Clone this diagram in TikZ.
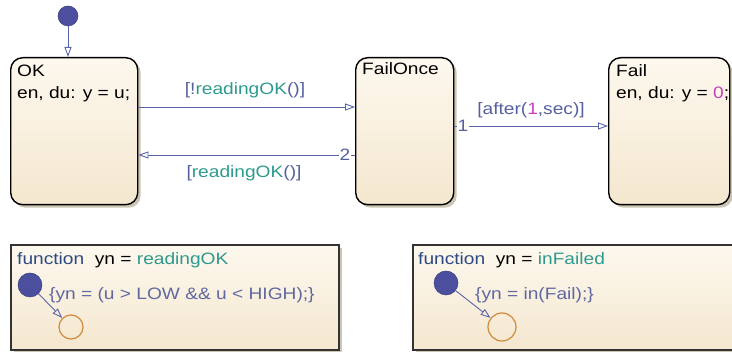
\documentclass[tikz,border=0pt]{standalone}
\usepackage{fontspec}
\setmainfont[FakeStretch=1.16]{Liberation Sans}
\usetikzlibrary{arrows.meta,shadows}
\definecolor{trc}{HTML}{5A64AA}
\definecolor{lblc}{HTML}{55609E}
\definecolor{teal}{HTML}{2E9A8E}
\definecolor{magc}{HTML}{C840C0}
\definecolor{funkw}{HTML}{2E4A85}
\definecolor{bodyc}{HTML}{6068A0}
\definecolor{dotc}{HTML}{4B4F9E}
\definecolor{juncc}{HTML}{D08A3A}
\definecolor{topc}{HTML}{FDF8EE}
\definecolor{botc}{HTML}{F4E7CF}
\definecolor{shadc}{HTML}{BFB6A0}
\begin{document}
\begin{tikzpicture}[x=1pt,y=-1pt,
  font=\fontsize{16.5}{19}\selectfont,
  statebox/.style={draw=black, line width=1.4pt, rounded corners=12pt,
    top color=topc, bottom color=botc, anchor=north west, inner sep=0pt,
    drop shadow={shadow xshift=3pt, shadow yshift=-3pt, fill=shadc, opacity=0.8}},
  funbox/.style={draw=black!80, line width=1.8pt,
    top color=topc, bottom color=botc, anchor=north west, inner sep=0pt,
    drop shadow={shadow xshift=3pt, shadow yshift=-3pt, fill=shadc, opacity=0.8}},
  txt/.style={anchor=base west, inner sep=0pt},
  ctxt/.style={anchor=base, inner sep=0pt},
  trans/.style={draw=trc, line width=0.9pt, -{Triangle[open, length=10pt, width=7pt]}},
  dotnode/.style={circle, fill=dotc, draw=dotc!80!black, line width=0.5pt, inner sep=0pt},
  junc/.style={circle, draw=juncc, line width=1.2pt, inner sep=0pt},
  numlbl/.style={fill=white, inner sep=0.6pt, text=lblc}]
\useasboundingbox (0,0) rectangle (732,352);
\clip (0,0) rectangle (732,352);

% states
\node[statebox, minimum width=127pt, minimum height=147pt] (ok) at (10,57) {};
\node[statebox, minimum width=98pt, minimum height=147pt] (fo) at (355,57) {};
\node[statebox, minimum width=121pt, minimum height=147pt] (fail) at (608,57) {};

\node[txt] (okname) at (17,77) {OK};
\node[txt] (okact) at (17,99) {en, du: y = u;};
\node[txt] (foname) at (362,75) {FailOnce};
\node[txt] (failname) at (616,77) {Fail};
\node[txt] (failact) at (616,99) {en, du: y = \textcolor{magc}{0};};

% initial transition
\node[dotnode, minimum size=20pt] (init) at (68,16) {};
\draw[trans] (init.south) -- (init.south |- ok.north);

% transitions
\draw[trans] (ok.east |- 0,107) -- (fo.west |- 0,107);
\node[ctxt, text=lblc] (l1) at (245,95) {[!\textcolor{teal}{readingOK}()]};

\draw[trans] (fo.west |- 0,155) -- node[numlbl, pos=0.046] (n2) {2} (ok.east |- 0,155);
\node[ctxt, text=lblc] (l2) at (244,178) {[\textcolor{teal}{readingOK}()]};

\draw[trans] (fo.east |- 0,126) -- node[numlbl, pos=0.055] (n1) {1} (fail.west |- 0,126);
\node[ctxt, text=lblc] (l3) at (531,115) {[after(\textcolor{magc}{1},sec)]};

% function boxes
\node[funbox, minimum width=328pt, minimum height=105pt] (f1) at (10,244) {};
\node[funbox, minimum width=335pt, minimum height=105pt] (f2) at (412,244) {};

\node[txt] (f1h) at (17,265) {\textcolor{funkw}{function}\ \ yn = \textcolor{teal}{readingOK}};
\node[dotnode, minimum size=24pt] (d1) at (30,285) {};
\node[junc, minimum size=24pt] (j1) at (71,327) {};
\draw[trans] (d1) -- (j1);
\node[txt, text=bodyc] (f1b) at (49,300) {\{yn = (u > LOW \&\& u < HIGH);\}};

\node[txt] (f2h) at (418,265) {\textcolor{funkw}{function}\ \ yn = \textcolor{teal}{inFailed}};
\node[dotnode, minimum size=24pt] (d2) at (446,283) {};
\node[junc, minimum size=28pt] (j2) at (502,327) {};
\draw[trans] (d2) -- (j2);
\node[txt, text=bodyc] (f2b) at (475,300) {\{yn = in(Fail);\}};
\end{tikzpicture}
\end{document}
